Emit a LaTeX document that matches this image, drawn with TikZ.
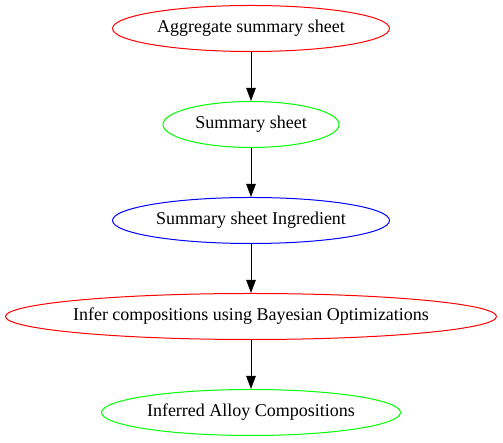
\documentclass[tikz,border=0pt]{standalone}
\usepackage{fontspec}
\setmainfont{Liberation Serif}
\usetikzlibrary{shapes.geometric,arrows.meta}
\newcommand{\zb}[1]{\makebox[0pt]{#1}}
\begin{document}
\begin{tikzpicture}[x=1pt,y=1pt,
  ell/.style={ellipse,draw,line width=1pt,inner sep=0pt,minimum height=46pt,font=\fontsize{18}{20}\selectfont},
  conn/.style={-{Triangle[length=13pt,width=9.5pt]},black,line width=1pt}]
\useasboundingbox (0,0) rectangle (503,443);
\node[ell,draw=red,minimum width=277pt] (a) at (251,414.5) {\zb{Aggregate summary sheet}};
\node[ell,draw=green,minimum width=176pt] (b) at (251,318.5) {\zb{Summary sheet}};
\node[ell,draw=blue,minimum width=277pt] (c) at (251,222.5) {\zb{Summary sheet Ingredient}};
\node[ell,draw=red,minimum width=491pt] (d) at (251,126.5) {\zb{Infer compositions using Bayesian Optimizations}};
\node[ell,draw=green,minimum width=299pt] (e) at (251,30.5) {\zb{Inferred Alloy Compositions}};
\draw[conn] (a) -- (b);
\draw[conn] (b) -- (c);
\draw[conn] (c) -- (d);
\draw[conn] (d) -- (e);
\end{tikzpicture}
\end{document}
